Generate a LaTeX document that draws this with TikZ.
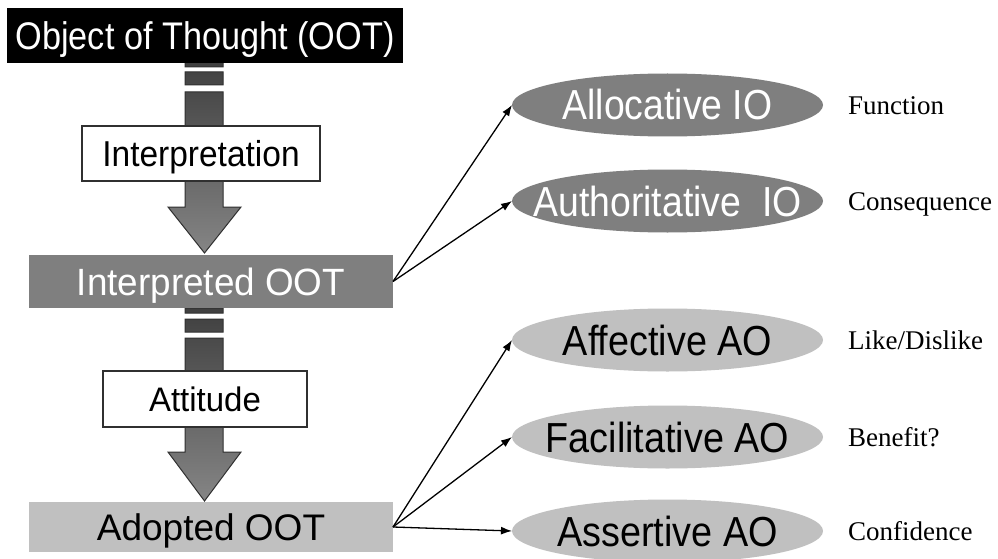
\documentclass[tikz,border=0pt]{standalone}
\usepackage{fontspec}
\setmainfont{Liberation Serif}
\setsansfont{Liberation Sans}
\usepackage{graphicx}
\usetikzlibrary{shapes.geometric,arrows.meta}
\definecolor{darkfill}{HTML}{7F7F7F}
\definecolor{lightfill}{HTML}{C0C0C0}
\definecolor{arrtop}{HTML}{3F3F3F}
\definecolor{arrbot}{HTML}{858585}
\definecolor{arrline}{HTML}{303030}
\newcommand\hsq[2]{\scalebox{#1}[1]{#2}}
\begin{document}
\begin{tikzpicture}[x=1pt,y=-1pt,
  boxbase/.style={rectangle, inner sep=0pt, outer sep=0pt, text depth=0pt},
  ovalbase/.style={ellipse, inner sep=0pt, outer sep=0pt, minimum width=311, minimum height=63,
    font=\sffamily\fontsize{42}{42}\selectfont, text height=30pt, text depth=0pt},
  darkoval/.style={ovalbase, fill=darkfill, text=white},
  lightoval/.style={ovalbase, fill=lightfill, text=black},
  lbl/.style={anchor=west, inner sep=0pt, font=\fontsize{27}{27}\selectfont, text height=18pt, text depth=0pt},
  conn/.style={draw=black, line width=1.3pt, -{Latex[length=11pt,width=8pt]}},
  bigarrow/.style={top color=arrtop, bottom color=arrbot, draw=arrline, line width=1pt}
]
\useasboundingbox (0,0) rectangle (998,559);
\fill[white] (0,0) rectangle (998,559);

% big arrow 1
\shade[bigarrow]
  (185,62) rectangle (223,67)
  (185,72) rectangle (223,85)
  (185,92) -- (223,92) -- (223,207) -- (241,207) -- (204.5,253) -- (168,207) -- (185,207) -- cycle;
% big arrow 2
\shade[bigarrow]
  (185,308) rectangle (223,313)
  (185,319) rectangle (223,332)
  (185,338) -- (223,338) -- (223,452) -- (241,452) -- (204.5,501) -- (168,452) -- (185,452) -- cycle;

\node[boxbase, fill=black, text=white, minimum width=396, minimum height=55,
  font=\sffamily\fontsize{38.5}{38.5}\selectfont, text height=27.6pt] (oot) at (205,35.5)
  {\hsq{0.89}{Object of Thought (OOT)}};
\node[boxbase, fill=white, draw=arrline, line width=1.2pt, minimum width=238, minimum height=55,
  font=\sffamily\fontsize{36}{36}\selectfont, text height=25.8pt] (interpretation) at (201,153.5)
  {\hsq{0.93}{Interpretation}};
\node[boxbase, fill=darkfill, text=white, minimum width=364, minimum height=53,
  font=\sffamily\fontsize{38}{38}\selectfont, text height=27.2pt] (interp) at (211,281.5)
  {\hsq{0.97}{Interpreted OOT}};
\node[boxbase, fill=white, draw=arrline, line width=1.2pt, minimum width=204, minimum height=56,
  font=\sffamily\fontsize{34}{34}\selectfont, text height=24.3pt] (attitude) at (205,399)
  {\hsq{0.97}{Attitude}};
\node[boxbase, fill=lightfill, text=black, minimum width=364, minimum height=50,
  font=\sffamily\fontsize{37}{37}\selectfont, text height=26.5pt] (adopted) at (211,527)
  {Adopted OOT};

\node[darkoval] (alloc) at (667.5,105) {\makebox[0pt]{\hsq{0.89}{Allocative IO}}};
\node[darkoval] (auth) at (667.5,201) {\makebox[0pt]{\hsq{0.89}{Authoritative\ \ IO}}};
\node[lightoval] (affect) at (667.5,340) {\makebox[0pt]{\hsq{0.9}{Affective AO}}};
\node[lightoval] (facil) at (667.5,437) {\makebox[0pt]{\hsq{0.9}{Facilitative AO}}};
\node[lightoval] (assert) at (667.5,531) {\makebox[0pt]{\hsq{0.9}{Assertive AO}}};

\node[lbl] (lfun) at (848,105) {Function};
\node[lbl] (lcon) at (848,201) {Consequence};
\node[lbl] (llike) at (848,340) {Like/Dislike};
\node[lbl] (lben) at (848,437) {Benefit?};
\node[lbl] (lconf) at (848,531) {Confidence};

\draw[conn] (interp.east) -- (alloc.west);
\draw[conn] (interp.east) -- (auth.west);
\draw[conn] (adopted.east) -- (affect.west);
\draw[conn] (adopted.east) -- (facil.west);
\draw[conn] (adopted.east) -- (assert.west);
\end{tikzpicture}
\end{document}
